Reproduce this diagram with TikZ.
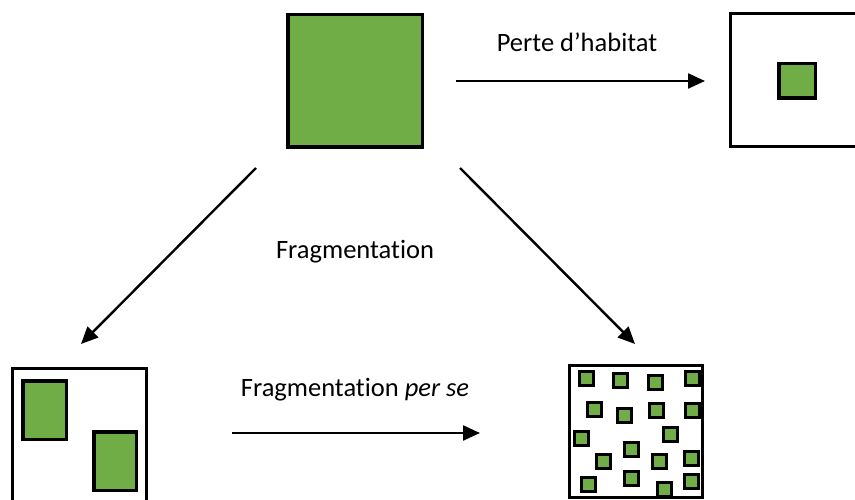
\documentclass[tikz,border=0pt]{standalone}
\usepackage{fontspec}
\setmainfont{Carlito}[Ligatures=NoCommon]
\usetikzlibrary{positioning,arrows.meta}
\definecolor{habitat}{HTML}{70AD47}
\tikzset{
  patch/.style={draw, line width=3.5pt, fill=habitat, inner sep=0pt},
  bit/.style={patch, line width=3pt, minimum size=14pt},
  land/.style={draw, line width=3pt, fill=white, inner sep=0pt, minimum width=134pt, minimum height=133pt},
  proc/.style={line width=2.4pt, -{Triangle[length=17pt,width=15pt]}},
  lbl/.style={font=\fontsize{26.5}{31}\selectfont}
}

\begin{document}
\begin{tikzpicture}[x=1pt,y=-1pt]
    \useasboundingbox (0,0) rectangle (855,500);

    % Intact habitat
    \node [patch, minimum width=134.5pt, minimum height=132.5pt] (intact) at (355,81) {};

    % Habitat loss
    \node [land] (loss) at (797,80.5) {};
    \node [patch, minimum width=36.5pt, minimum height=34.5pt] (remnant) at (797,81) {};

    % Few large fragments
    \node [land] (few) at (79.5,434.5) {};
    \node [patch, minimum width=43.5pt, minimum height=58.5pt] (fragA) at (44.5,410) {};
    \node [patch, minimum width=42.5pt, minimum height=58.5pt] (fragB) at (115,461) {};

    % Many small fragments
    \node [land, minimum width=133pt, minimum height=132pt] (many) at (636,431.5) {};
    \foreach \x/\y [count=\i] in {586/378.5, 620.5/380.5, 655.5/382, 692.5/378.5,
        594.5/409.5, 624.5/415.5, 656/410, 692.5/410, 581/438.5, 670.5/434.5,
        631/449.5, 603.5/461.5, 659.5/461, 691/458, 588.5/484.5, 631/478.5,
        664.5/489.5, 691.5/481.5} {
        \node [bit] (bit\i) at (\x,\y) {};
    }

    % Arrow ends
    \coordinate (lossStart) at (456,81);
    \coordinate (lossEnd) at (705,81);
    \coordinate (fewStart) at (256,168);
    \coordinate (fewEnd) at (81,344);
    \coordinate (manyStart) at (460,168);
    \coordinate (manyEnd) at (635,344);
    \coordinate (perseStart) at (232,433);
    \coordinate (perseEnd) at (480,433);

    \draw [proc] (lossStart) -- (lossEnd);
    \draw [proc] (fewStart) -- (fewEnd);
    \draw [proc] (manyStart) -- (manyEnd);
    \draw [proc] (perseStart) -- (perseEnd);

    % Labels
    \node [lbl] (lossLabel) at (577,42) {Perte d’habitat};
    \node [lbl] (fragLabel) at (355,252) {Fragmentation};
    \node [lbl] (perseLabel) at (355,390) {Fragmentation \textit{per se}};
\end{tikzpicture}
\end{document}
